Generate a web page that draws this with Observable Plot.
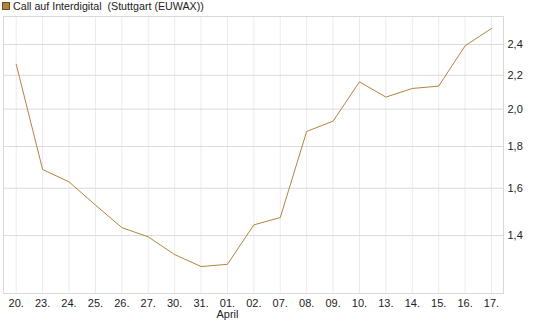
<!DOCTYPE html>
<html>
<head>
<meta charset="utf-8">
<script src="https://cdn.jsdelivr.net/npm/d3@7"></script>
<script src="https://cdn.jsdelivr.net/npm/@observablehq/plot@0.6"></script>
<style>
  html, body { margin: 0; padding: 0; background: #fff; }
  #wrap { position: relative; width: 545px; height: 327px; font-family: "Liberation Sans", Arial, sans-serif; }
  #title { position: absolute; left: 2px; top: 1px; font-size: 10.7px; color: #222; line-height: 11px; white-space: pre; }
  #title .sw { display: inline-block; width: 6px; height: 6px; background: #b3843d; border: 1px solid #6b4e22; margin-right: 3px; vertical-align: 0px; }
</style>
</head>
<body>
<div id="wrap">
  <div id="chart"></div>
  <div id="title"><span class="sw"></span>Call auf Interdigital  (Stuttgart (EUWAX))</div>
</div>
<script>
const dateLabels = ["20.","23.","24.","25.","26.","27.","30.","31.","01.","02.","07.","08.","09.","10.","13.","14.","15.","16.","17."];
const values = [2.27,1.687,1.629,1.526,1.432,1.395,1.327,1.283,1.291,1.443,1.473,1.878,1.933,2.160,2.069,2.120,2.134,2.391,2.511];
const yTicks = [1.4,1.6,1.8,2.0,2.2,2.4];
const monthLabel = "April";
const monthIndex = 8;

const data = values.map((v, i) => ({i, v}));
const idx = dateLabels.map((d, i) => i);

const chart = Plot.plot({
  width: 545,
  height: 327,
  marginLeft: 3,
  marginRight: 42,
  marginTop: 16,
  marginBottom: 34,
  style: {fontFamily: "'Liberation Sans', Arial, sans-serif", fontSize: "11px", color: "#222", background: "#fff"},
  x: {type: "linear", domain: [0, dateLabels.length - 1], range: [15.7, 491]},
  y: {type: "log", domain: [1.189, 2.597]},
  marks: [
    Plot.ruleX(idx, {x: d => d, stroke: "#ebebeb", strokeWidth: 1}),
    Plot.ruleY(yTicks, {y: d => d, stroke: "#dcdcdc", strokeWidth: 1}),
    Plot.frame({stroke: "#d9d9d9"}),
    Plot.axisY({anchor: "right", ticks: yTicks, tickSize: 0, tickPadding: 4, tickFormat: d => d.toFixed(1).replace(".", ","), label: null, fontSize: 11}),
    Plot.axisX({ticks: idx, tickSize: 0, tickPadding: 6, tickFormat: i => dateLabels[i], label: null, fontSize: 11}),
    Plot.text([monthLabel], {x: [monthIndex], frameAnchor: "bottom", lineAnchor: "middle", dy: 21, fontSize: 11, fill: "#222"}),
    Plot.line(data, {x: "i", y: "v", stroke: "#b3843d", strokeWidth: 1})
  ]
});
document.getElementById("chart").appendChild(chart);
</script>
</body>
</html>
